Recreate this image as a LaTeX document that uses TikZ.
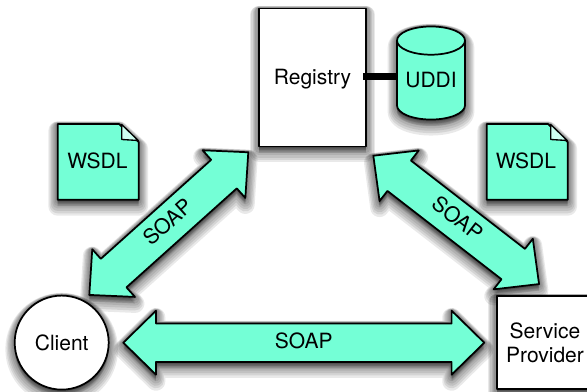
\documentclass[tikz,border=0pt]{standalone}
\usepackage{fontspec}
\setmainfont{TeX Gyre Heros}
\usetikzlibrary{shapes.geometric,shapes.arrows}
\definecolor{aqua}{HTML}{74FFD6}
\tikzset{
  shadowlayer/.style 2 args={preaction={draw=black,fill=black,draw opacity=.085,fill opacity=.085,line width=#1,line join=round,transform canvas={yshift=#2}}},
  softshadow/.style={shadowlayer={14pt}{-5pt},shadowlayer={12pt}{-4.2pt},shadowlayer={10pt}{-3.4pt},shadowlayer={8pt}{-2.6pt},shadowlayer={6pt}{-1.8pt},shadowlayer={4pt}{-1pt},shadowlayer={2pt}{-.4pt}},
  outline/.style={draw=black,line width=1.3pt,line join=round,softshadow},
  label text/.style={font=\fontsize{15.75}{18}\selectfont,text=black},
  whitebox/.style={outline,fill=white,rectangle,inner sep=0pt,outer sep=0pt,label text,align=center},
  soaparrow/.style={outline,fill=aqua,double arrow,double arrow tip angle=88.8,
    minimum width=48pt,inner xsep=0pt,inner ysep=2.85pt,outer sep=0pt,
    text height=11.3pt,text depth=3pt,label text},
  docshape/.style={outline,fill=aqua},
  fold/.style={draw=black,line width=1pt,line join=round,fill=aqua!35!white}
}
\begin{document}
\begin{tikzpicture}[x=0.75pt,y=-0.75pt]
\path[use as bounding box] (0,0) rectangle (587,392);
\clip (0,0) rectangle (587,392);
\fill[white] (0,0) rectangle (587,392);

% Block arrows
\node[soaparrow,minimum height=270.75pt] (bottomarrow) at (303.8,342.7) {SOAP};
\node[soaparrow,minimum height=160.2pt,rotate=41.9] (leftarrow) at (168.8,223.6) {SOAP};
\node[soaparrow,minimum height=157.2pt,rotate=-37.75] (rightarrow) at (456.2,219.9) {SOAP};

% Documents
\path[docshape] (57.7,124) -- (119,124) -- (138.7,142) -- (138.7,199.7) -- (57.7,199.7) -- cycle;
\path[fold] (121.7,124.5) -- (121.7,139.5) -- (138.2,140.5) -- cycle;
\node[label text,inner sep=0pt] (wsdlleft) at (97.5,160.7) {WSDL};

\path[docshape] (486.7,124) -- (548,124) -- (567.7,142) -- (567.7,199.7) -- (486.7,199.7) -- cycle;
\path[fold] (550.7,124.5) -- (550.7,139.5) -- (567.2,140.5) -- cycle;
\node[label text,inner sep=0pt] (wsdlright) at (526,160.7) {WSDL};

% Registry and UDDI
\node[outline,fill=aqua,cylinder,shape border rotate=90,aspect=.55,
  minimum width=51pt,minimum height=69.8pt,inner sep=0pt,outer sep=0pt,label text] (uddi) at (431,80.5) {UDDI};
\node[whitebox,minimum width=79.9pt,minimum height=103.5pt,text height=14pt] (registry) at (312.5,77.5) {Registry};
\draw[line width=5.25pt,black] ([xshift=-2pt,yshift=.7pt]registry.east) -- ([yshift=.7pt]registry.east -| uddi.west);

% Client and provider
\node[outline,fill=white,circle,minimum size=70.5pt,inner sep=0pt,outer sep=0pt,label text] (client) at (61.7,342.6) {Client};
\node[whitebox,minimum width=72pt,minimum height=69.5pt] (provider) at (545,342.6) {Service\\Provider};
\end{tikzpicture}
\end{document}
